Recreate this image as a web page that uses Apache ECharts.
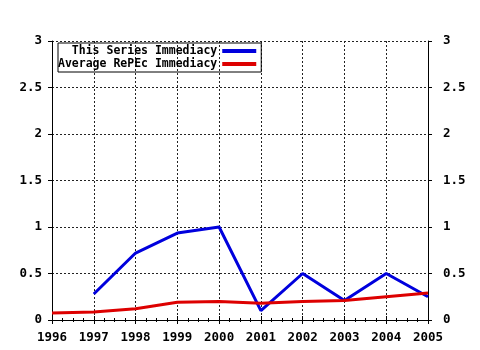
<!DOCTYPE html>
<html>
<head>
<meta charset="utf-8">
<script src="https://cdn.jsdelivr.net/npm/echarts@6/dist/echarts.min.js"></script>
<style>
  html, body { margin: 0; padding: 0; background: #fff; }
  #chart { width: 480px; height: 350px; }
</style>
</head>
<body>
<div id="chart"></div>
<script>
// data
var years = [1996, 1997, 1998, 1999, 2000, 2001, 2002, 2003, 2004, 2005]
var seriesImmediacy = [null, 0.28, 0.72, 0.935, 1.0, 0.1, 0.5, 0.21, 0.5, 0.25]
var repecImmediacy = [0.075, 0.085, 0.12, 0.19, 0.2, 0.18, 0.2, 0.21, 0.25, 0.29]
var seriesNames = ['  This Series Immediacy', 'Average RePEc Immediacy']

var font = 'DejaVu Sans Mono'

function pairs(vals) {
  return years.map(function (y, i) { return [y, vals[i]] })
}

var chart = echarts.init(document.getElementById('chart'))

var xBase = {
  type: 'value',
  min: 1996,
  max: 2005,
  interval: 1,
  axisLine: { lineStyle: { color: '#000', width: 1 } },
  axisTick: { inside: true, length: 4, lineStyle: { color: '#000' } },
  minorTick: { show: true, splitNumber: 4, length: 2, lineStyle: { color: '#000' } },
  splitLine: { show: false }
}

var yBase = {
  type: 'value',
  min: 0,
  max: 3,
  interval: 0.5,
  axisLine: { show: true, lineStyle: { color: '#000', width: 1 } },
  axisTick: { show: true, length: 4, lineStyle: { color: '#000' } },
  splitLine: { show: false }
}

var gridDots = { color: '#222', type: [2, 2], width: 1 }

chart.setOption({
  animation: false,
  backgroundColor: '#fff',
  grid: { left: 52, right: 52, top: 41, bottom: 30 },
  legend: {
    data: seriesNames,
    orient: 'vertical',
    align: 'right',
    left: 58,
    top: 43,
    padding: [2, 5, 2, 0],
    itemGap: 1,
    itemWidth: 34,
    itemHeight: 4,
    icon: 'rect',
    borderColor: '#000',
    borderWidth: 1,
    borderRadius: 0,
    textStyle: { fontFamily: font, fontWeight: 'bold', fontSize: 11.5, color: '#000' }
  },
  xAxis: [
    Object.assign({}, xBase, {
      position: 'bottom',
      axisLabel: { fontFamily: font, fontWeight: 'bold', fontSize: 12.5, color: '#000', margin: 11,
        formatter: function (v) { return String(v) } },
      splitLine: { show: true, lineStyle: gridDots }
    }),
    Object.assign({}, xBase, {
      position: 'top',
      axisLabel: { show: false }
    })
  ],
  yAxis: [
    Object.assign({}, yBase, {
      position: 'left',
      axisLabel: { fontFamily: font, fontWeight: 'bold', fontSize: 12.5, color: '#000', margin: 10 },
      splitLine: { show: true, lineStyle: gridDots }
    }),
    Object.assign({}, yBase, {
      position: 'right',
      axisLabel: { fontFamily: font, fontWeight: 'bold', fontSize: 12.5, color: '#000', margin: 15 }
    })
  ],
  series: [
    {
      name: seriesNames[0],
      type: 'line',
      data: pairs(seriesImmediacy),
      symbol: 'none',
      connectNulls: false,
      itemStyle: { color: '#0000dd' },
      lineStyle: { color: '#0000dd', width: 3 },
      z: 3
    },
    {
      name: seriesNames[1],
      type: 'line',
      data: pairs(repecImmediacy),
      symbol: 'none',
      itemStyle: { color: '#dd0000' },
      lineStyle: { color: '#dd0000', width: 3 },
      z: 4
    }
  ]
})
</script>
</body>
</html>
